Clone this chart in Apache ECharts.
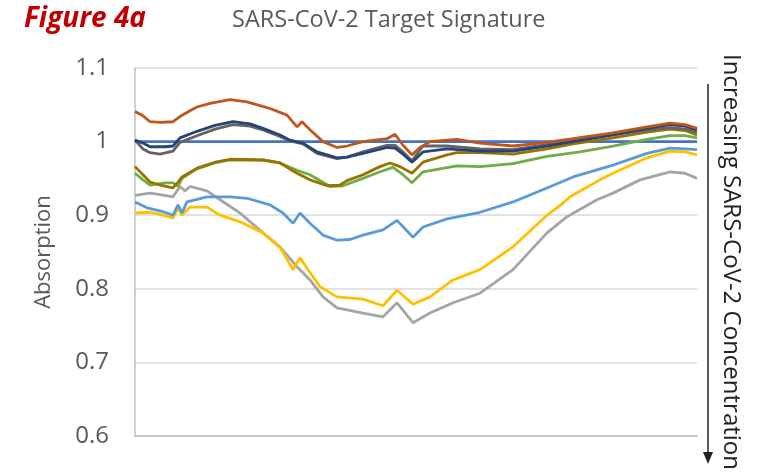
<!DOCTYPE html>
<html><head><meta charset="utf-8">
<script src="https://cdn.jsdelivr.net/npm/echarts@6/dist/echarts.min.js"></script>
<style>html,body{margin:0;padding:0;background:#fff}#c{width:769px;height:476px}</style>
</head><body><div id="c"></div>
<script>
// x = relative position along the spectrum (unitless), y = absorption
const referenceLine = [[0,1.000],[562,1.000]];
const brownData = [[0,1.041],[8,1.035],[15,1.027],[25,1.026],[38,1.027],[45,1.034],[55,1.042],[62,1.047],[75,1.052],[95,1.057],[112,1.054],[125,1.049],[135,1.045],[152,1.036],[162,1.020],[167,1.027],[175,1.016],[188,1.000],[202,0.992],[212,0.994],[228,1.000],[252,1.004],[260,1.010],[268,0.995],[277,0.982],[285,0.992],[295,1.000],[312,1.002],[322,1.003],[345,0.998],[378,0.994],[412,0.999],[438,1.004],[478,1.012],[512,1.020],[535,1.025],[550,1.023],[562,1.018]];
const navyData = [[0,1.002],[8,0.998],[15,0.993],[30,0.993],[38,0.994],[45,1.005],[62,1.014],[80,1.022],[98,1.027],[115,1.024],[128,1.018],[145,1.009],[155,1.002],[168,0.998],[182,0.986],[202,0.978],[212,0.979],[228,0.984],[252,0.992],[260,0.991],[268,0.983],[277,0.972],[288,0.986],[312,0.990],[345,0.987],[378,0.987],[412,0.994],[438,1.000],[478,1.009],[512,1.018],[535,1.023],[550,1.021],[562,1.016]];
const darkGrayData = [[0,1.002],[8,0.990],[15,0.985],[25,0.983],[38,0.987],[45,0.999],[62,1.008],[80,1.017],[98,1.023],[115,1.021],[128,1.016],[145,1.007],[155,1.001],[168,0.997],[182,0.984],[202,0.977],[212,0.979],[228,0.986],[252,0.995],[260,0.995],[268,0.986],[277,0.974],[288,0.994],[312,0.994],[345,0.990],[378,0.989],[412,0.996],[438,1.002],[478,1.009],[512,1.016],[535,1.019],[550,1.017],[562,1.013]];
const oliveData = [[0,0.966],[8,0.955],[15,0.945],[25,0.941],[38,0.937],[43,0.945],[47,0.952],[62,0.964],[80,0.972],[95,0.976],[128,0.975],[145,0.971],[162,0.957],[175,0.948],[192,0.940],[205,0.941],[212,0.947],[228,0.955],[245,0.966],[255,0.971],[265,0.966],[277,0.957],[288,0.972],[312,0.982],[322,0.985],[345,0.985],[378,0.983],[412,0.990],[438,0.997],[478,1.005],[512,1.013],[535,1.017],[550,1.015],[562,1.009]];
const greenData = [[0,0.957],[8,0.948],[15,0.941],[30,0.944],[38,0.944],[43,0.939],[47,0.950],[62,0.963],[80,0.971],[95,0.975],[128,0.975],[145,0.971],[162,0.961],[175,0.955],[195,0.939],[208,0.940],[228,0.950],[245,0.959],[258,0.965],[268,0.955],[277,0.944],[288,0.959],[322,0.967],[345,0.966],[378,0.970],[412,0.980],[445,0.986],[478,0.994],[512,1.003],[535,1.008],[550,1.008],[562,1.005]];
const lightBlueData = [[0,0.918],[12,0.910],[25,0.906],[38,0.900],[43,0.914],[47,0.903],[52,0.918],[72,0.925],[95,0.925],[112,0.923],[135,0.914],[148,0.903],[158,0.889],[165,0.903],[175,0.889],[188,0.873],[202,0.866],[215,0.867],[228,0.873],[248,0.880],[262,0.893],[278,0.870],[288,0.884],[312,0.895],[345,0.904],[378,0.918],[412,0.937],[438,0.952],[478,0.968],[512,0.984],[535,0.991],[550,0.990],[562,0.989]];
const goldData = [[0,0.903],[15,0.904],[25,0.901],[38,0.896],[43,0.910],[47,0.900],[55,0.911],[72,0.911],[85,0.900],[105,0.891],[128,0.876],[145,0.856],[158,0.826],[165,0.842],[172,0.828],[185,0.803],[202,0.789],[228,0.786],[248,0.777],[262,0.798],[278,0.779],[295,0.789],[318,0.812],[345,0.826],[378,0.857],[412,0.900],[425,0.913],[435,0.925],[465,0.948],[478,0.957],[512,0.978],[535,0.987],[550,0.986],[562,0.982]];
const grayData = [[0,0.927],[15,0.930],[25,0.928],[38,0.925],[45,0.939],[50,0.933],[55,0.939],[72,0.933],[85,0.921],[105,0.903],[128,0.876],[145,0.857],[162,0.830],[175,0.812],[188,0.789],[202,0.774],[228,0.767],[248,0.762],[262,0.781],[278,0.754],[295,0.767],[318,0.781],[345,0.794],[378,0.826],[412,0.876],[432,0.898],[462,0.921],[478,0.930],[505,0.948],[535,0.959],[550,0.957],[562,0.950]];
const yTicks = [0.6, 0.7, 0.8, 0.9, 1.0, 1.1];

const seriesDefs = [
  {data: referenceLine, color: '#4472C4'},
  {data: grayData, color: '#A5A5A5'},
  {data: goldData, color: '#FFC000'},
  {data: lightBlueData, color: '#5B9BD5'},
  {data: greenData, color: '#70AD47'},
  {data: oliveData, color: '#997300'},
  {data: darkGrayData, color: '#636363'},
  {data: navyData, color: '#264478'},
  {data: brownData, color: '#C0561A'}
];

const chart = echarts.init(document.getElementById('c'), null, {renderer: 'canvas'});
chart.setOption({
  animation: false,
  backgroundColor: '#fff',
  grid: {left: 135, right: 72, top: 68, bottom: 40},
  xAxis: {
    type: 'value', min: 0, max: 562,
    axisLine: {show: true, onZero: false, lineStyle: {color: '#BFBFBF', width: 1.5}},
    axisTick: {show: false}, axisLabel: {show: false}, splitLine: {show: false}
  },
  yAxis: {
    type: 'value', min: yTicks[0], max: yTicks[yTicks.length - 1], interval: 0.1,
    name: 'Absorption', nameLocation: 'middle', nameGap: 80, nameRotate: 90,
    nameTextStyle: {color: '#595959', fontSize: 22, fontFamily: 'Open Sans'},
    axisLine: {show: true, lineStyle: {color: '#BFBFBF', width: 1.5}},
    axisTick: {show: false},
    axisLabel: {color: '#595959', fontSize: 24, fontFamily: 'Open Sans', margin: 26,
      formatter: v => String(+v.toFixed(1))},
    splitLine: {lineStyle: {color: '#D9D9D9', width: 1.5}}
  },
  series: seriesDefs.map(s => ({
    type: 'line', data: s.data, showSymbol: false, symbol: 'none',
    lineStyle: {color: s.color, width: 2.8}, itemStyle: {color: s.color}
  })),
  graphic: [
    {type: 'text', left: 24, top: 5, style: {text: 'Figure 4a', fill: '#C00000',
      font: 'italic bold 28px "Open Sans"'}},
    {type: 'text', left: 232, top: 8, style: {text: 'SARS-CoV-2 Target Signature', fill: '#595959',
      font: '23.5px "Open Sans"'}},
    {type: 'line', shape: {x1: 708, y1: 84, x2: 708, y2: 452}, style: {stroke: '#222', lineWidth: 1.5}},
    {type: 'polygon', shape: {points: [[703, 452], [713, 452], [708, 464]]}, style: {fill: '#222'}},
    {type: 'text', x: 731, y: 262, rotation: -Math.PI / 2,
      style: {text: 'Increasing SARS-CoV-2 Concentration', fill: '#222', font: '24px "Open Sans"',
        align: 'center', verticalAlign: 'middle'}}
  ]
});
</script></body></html>
